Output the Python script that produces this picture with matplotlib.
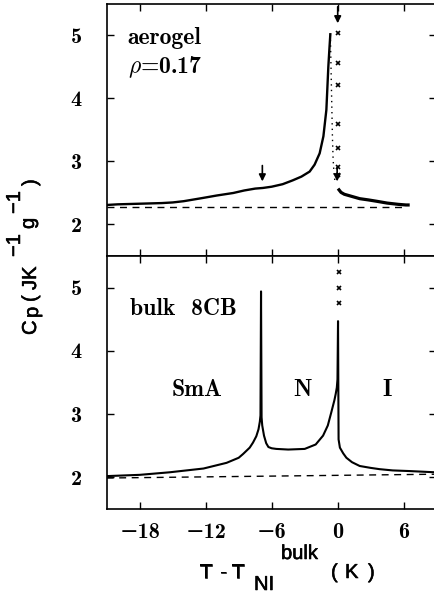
import matplotlib
matplotlib.use("Agg")
import matplotlib.pyplot as plt
import matplotlib.patheffects as pe

# ---------------- data ----------------
xticks = [-18, -12, -6, 0, 6]
yticks = [2, 3, 4, 5]
xtick_labels = ["\u221218", "\u221212", "\u22126", "0", "6"]

# aerogel, nematic side (solid)
aer_T_low = [-21, -20, -18, -16, -15, -14, -12.3, -11, -9.5, -8.5, -7.5, -6.8, -6, -5,
             -4.1, -3.3, -2.55, -2.1, -1.64, -1.3, -1.03, -0.85, -0.75, -0.67]
aer_C_low = [2.31, 2.32, 2.33, 2.34, 2.35, 2.37, 2.42, 2.46, 2.50, 2.54, 2.57, 2.58, 2.60, 2.64,
             2.70, 2.76, 2.84, 2.95, 3.13, 3.40, 3.82, 4.51, 4.80, 5.02]
# aerogel, sparse points through the transition (dotted)
aer_T_mid = [-0.67, -0.62, -0.55, -0.48, -0.42, -0.35, -0.25]
aer_C_mid = [5.02, 4.60, 4.00, 3.40, 3.05, 2.85, 2.68]
# aerogel, isotropic side
aer_T_high = [0.12, 0.3, 0.6, 1.0, 1.4, 2.0, 2.8, 3.5, 4.5, 5.5, 6.2, 6.4]
aer_C_high = [2.55, 2.51, 2.48, 2.46, 2.44, 2.41, 2.39, 2.37, 2.34, 2.32, 2.31, 2.31]
aer_base_T = [-21, 6.3]
aer_base_C = [2.28, 2.28]
aer_x_T = [0, 0, 0, 0, 0, 0, 0]
aer_x_C = [5.04, 4.56, 4.22, 3.59, 3.21, 2.91, 2.78]

# bulk 8CB
bulk_T = [-21, -18, -15.3, -12.2, -10.1, -9, -8.6, -8, -7.7, -7.4, -7.2, -7.08, -7.02, -6.97,
          -6.92, -6.86, -6.7, -6.5, -6.3, -6.0, -5.58, -4.5, -3, -2, -1.33, -0.9, -0.58,
          -0.3, -0.18, -0.08, -0.02, 0.03, 0.08, 0.2, 0.5, 0.79, 1.3, 2.0, 3.0, 3.8, 5.0,
          6.5, 8.9]
bulk_C = [2.02, 2.04, 2.08, 2.14, 2.23, 2.31, 2.37, 2.47, 2.55, 2.65, 2.76, 2.88, 2.98, 4.94,
          2.95, 2.82, 2.66, 2.54, 2.48, 2.46, 2.45, 2.44, 2.45, 2.52, 2.66, 2.82, 3.03,
          3.22, 3.32, 3.42, 3.55, 4.47, 2.60, 2.47, 2.38, 2.31, 2.24, 2.18, 2.15, 2.13, 2.11,
          2.10, 2.08]
bulk_base_T = [-21, 8.9]
bulk_base_C = [1.99, 2.05]
bulk_x_T = [0.1, 0.1, 0.1]
bulk_x_C = [5.25, 5.00, 4.76]

# axis label pieces: (text, x_px, y_px)
ylabel_parts = [("C", 36, 335), ("p", 38, 318), ("(", 36, 302), ("JK", 36, 290),
                ("\u22121", 20, 257), ("g", 34, 229), ("\u22121", 20, 214), (")", 36, 186)]
xlabel_parts = [("T", 200, 578), ("-", 220, 578), ("T", 232, 578), ("NI", 254, 590),
                ("bulk", 281, 559), ("(", 331, 578), ("K", 345, 578), (")", 368, 578)]

# ---------------- style ----------------
W = 435.0
H = 598.0
serif_bold = dict(family=['cmb10', 'DejaVu Serif'], weight='bold')
tick_font = dict(family=['cmb10', 'DejaVu Serif'], size=16)
thick = [pe.withStroke(linewidth=0.4, foreground='black')]

fig = plt.figure(figsize=(4.35, 5.98), dpi=100)
left = 106.7 / W
width = (435.6 - 106.7) / W
ax1 = fig.add_axes([left, 1 - 256 / H, width, 252 / H])
ax2 = fig.add_axes([left, 1 - 509 / H, width, 253 / H])

for ax in (ax1, ax2):
    ax.set_xlim(-21, 8.9)
    ax.set_ylim(1.5, 5.5)
    ax.set_xticks(xticks)
    ax.set_yticks(yticks)
    ax.tick_params(direction='in', length=5, width=1, top=True, right=True)
    for s in ax.spines.values():
        s.set_linewidth(1.2)
    ax.set_yticklabels([str(v) for v in yticks], fontdict=tick_font)
    ax.tick_params(axis='y', pad=18)

ax1.set_xticklabels([])
ax2.set_xticklabels(xtick_labels, fontdict=tick_font)
ax2.tick_params(axis='x', pad=10)

# top panel
ax1.plot(aer_T_low, aer_C_low, color='black', lw=1.7)
ax1.plot(aer_T_mid, aer_C_mid, color='black', lw=1.0, ls=(0, (1, 3)))
ax1.plot(aer_T_high, aer_C_high, color='black', lw=2.3)
ax1.plot(aer_base_T, aer_base_C, color='black', lw=1.0, ls=(0, (5, 4)))
ax1.plot(aer_x_T, aer_x_C, ls='none', marker='x', ms=3.5, mew=1.2, color='black')
arrow = dict(arrowstyle='-|>', color='black', lw=1.2, mutation_scale=10)
ax1.annotate('', xy=(0, 5.15), xytext=(0, 5.5), arrowprops=arrow)
ax1.annotate('', xy=(-0.05, 2.64), xytext=(-0.05, 2.95), arrowprops=arrow)
ax1.annotate('', xy=(-6.85, 2.64), xytext=(-6.85, 2.98), arrowprops=arrow)
ax1.text(-19.1, 4.86, 'aerogel', fontsize=17, ha='left', va='baseline', **serif_bold)
ax1.text(-19.1, 4.40, r'$\rho$=0.17', fontsize=17, ha='left', va='baseline',
         math_fontfamily='cm', **serif_bold)

# bottom panel
ax2.plot(bulk_T, bulk_C, color='black', lw=1.5)
ax2.plot(bulk_base_T, bulk_base_C, color='black', lw=1.0, ls=(0, (5, 4)))
ax2.plot(bulk_x_T, bulk_x_C, ls='none', marker='x', ms=3.5, mew=1.2, color='black')
ax2.text(-18.9, 4.57, 'bulk  8CB', fontsize=17, ha='left', va='baseline', **serif_bold)
ax2.text(-12.8, 3.29, 'SmA', fontsize=17, ha='center', va='baseline', **serif_bold)
ax2.text(-3.2, 3.29, 'N', fontsize=17, ha='center', va='baseline', **serif_bold)
ax2.text(4.5, 3.29, 'I', fontsize=17, ha='center', va='baseline', **serif_bold)

# axis labels built from pieces (full-size sub/superscripts as in the original)
for txt, xp, yp in ylabel_parts:
    fig.text(xp / W, 1 - yp / H, txt, rotation=90, rotation_mode='anchor',
             ha='left', va='baseline', fontsize=14.5, family='Liberation Sans',
             path_effects=thick)
for txt, xp, yp in xlabel_parts:
    fig.text(xp / W, 1 - yp / H, txt, ha='left', va='baseline',
             fontsize=14.5, family='Liberation Sans', path_effects=thick)

fig.savefig('out.png', dpi=100)
